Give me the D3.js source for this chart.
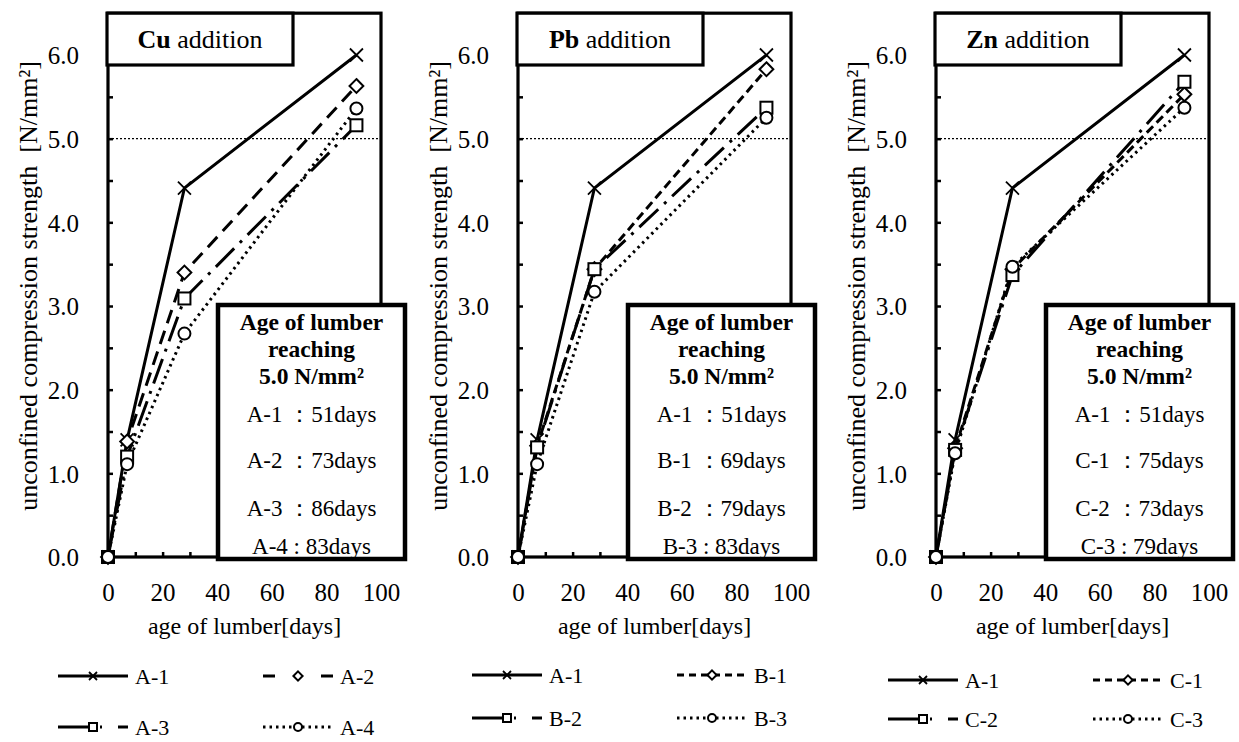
<!DOCTYPE html>
<html>
<head>
<meta charset="utf-8">
<script src="https://cdn.jsdelivr.net/npm/d3@7"></script>
<style>
  body { margin: 0; background: #fff; }
  svg { display: block; }
</style>
</head>
<body>
<svg id="chart" width="1239" height="742"></svg>
<script>
// Curing ages (days) at which specimens were tested
const days = [0, 7, 28, 91];

// Cu addition
const cuSeries = ["A-1", "A-2", "A-3", "A-4"];
const cuValues = [
  [0, 1.40, 4.41, 6.00],
  [0, 1.38, 3.40, 5.63],
  [0, 1.20, 3.09, 5.16],
  [0, 1.11, 2.67, 5.36]
];
const cuReachDays = [51, 73, 86, 83];

// Pb addition
const pbSeries = ["A-1", "B-1", "B-2", "B-3"];
const pbValues = [
  [0, 1.40, 4.41, 6.00],
  [0, 1.33, 3.44, 5.83],
  [0, 1.31, 3.44, 5.37],
  [0, 1.11, 3.17, 5.25]
];
const pbReachDays = [51, 69, 79, 83];

// Zn addition
const znSeries = ["A-1", "C-1", "C-2", "C-3"];
const znValues = [
  [0, 1.40, 4.41, 6.00],
  [0, 1.30, 3.44, 5.53],
  [0, 1.28, 3.37, 5.68],
  [0, 1.24, 3.47, 5.37]
];
const znReachDays = [51, 75, 73, 79];

const metals = ["Cu", "Pb", "Zn"];
const xTickLabels = [0, 20, 40, 60, 80, 100];
const yTickLabels = [0, 1, 2, 3, 4, 5, 6];
const targetStrength = 5.0;

const panels = [
  { metal: metals[0], names: cuSeries, values: cuValues, reach: cuReachDays },
  { metal: metals[1], names: pbSeries, values: pbValues, reach: pbReachDays },
  { metal: metals[2], names: znSeries, values: znValues, reach: znReachDays }
];

// ---- layout & styling ----
const FONT = "'Liberation Serif','Times New Roman',Times,serif";
const plotLeft = [108, 518, 936];
const plotWidth = 273;
const legendX = [0, 414, 830];
const legendRows = [[676, 727], [675, 718], [680, 719]];
const markerTypes = ["cross", "diamond", "square", "circle"];
const plotDash = [
  ["none", "14,8", "26,8,3,8", "2.5,4"],
  ["none", "9,5", "26,8,3,8", "2.5,4"],
  ["none", "9,5", "26,8,3,8", "2.5,4"]
];
const legendDash = [
  ["none", "12,46,12", "30,12,2,16,10", "2.5,4"],
  ["none", "7,5", "30,12,2,16,10", "2.5,4"],
  ["none", "7,5", "30,12,2,16,10", "2.5,4"]
];

const svg = d3.select("#chart");

function addText(parent, x, y, anchor, size, rotate) {
  const tf = rotate ? `translate(${x},${y}) rotate(-90)` : `translate(${x},${y})`;
  return parent.append("text")
    .attr("transform", tf)
    .attr("text-anchor", anchor)
    .attr("dy", "0.35em")
    .attr("font-family", FONT)
    .attr("font-size", size)
    .attr("fill", "#000")
    .style("white-space", "pre");
}

function drawMarker(parent, type, x, y, s) {
  const h = s / 2;
  if (type === "cross") {
    parent.append("path")
      .attr("d", `M${x - h},${y - h}L${x + h},${y + h}M${x - h},${y + h}L${x + h},${y - h}`)
      .attr("stroke", "#000").attr("stroke-width", 1.8).attr("fill", "none");
  } else if (type === "diamond") {
    const d = h * 1.15;
    parent.append("path")
      .attr("d", `M${x},${y - d}L${x + d},${y}L${x},${y + d}L${x - d},${y}Z`)
      .attr("stroke", "#000").attr("stroke-width", 2).attr("fill", "#fff");
  } else if (type === "square") {
    parent.append("rect")
      .attr("x", x - h).attr("y", y - h).attr("width", s).attr("height", s)
      .attr("stroke", "#000").attr("stroke-width", 2).attr("fill", "#fff");
  } else {
    parent.append("circle")
      .attr("cx", x).attr("cy", y).attr("r", h)
      .attr("stroke", "#000").attr("stroke-width", 2).attr("fill", "#fff");
  }
}

panels.forEach((p, pi) => {
  const g = svg.append("g");
  const x0 = plotLeft[pi];
  const x = d3.scaleLinear().domain([0, 100]).range([x0, x0 + plotWidth]);
  const y = d3.scaleLinear().domain([0, 6]).range([557, 55]);
  const yTop = y(6.5);

  // target strength reference
  g.append("line")
    .attr("x1", x(0)).attr("x2", x(100))
    .attr("y1", y(targetStrength)).attr("y2", y(targetStrength))
    .attr("stroke", "#000").attr("stroke-width", 1.2).attr("stroke-dasharray", "2,2");

  // axes: inward ticks, labels restyled afterwards
  const xAxis = d3.axisBottom(x)
    .tickValues(d3.range(0, 101, 10))
    .tickSizeInner(-5).tickSizeOuter(0)
    .tickFormat(d => xTickLabels.includes(d) ? String(d) : "");
  const gx = g.append("g").attr("transform", `translate(0,${y(0)})`).call(xAxis);
  gx.select(".domain").remove();
  gx.selectAll(".tick line").attr("stroke", "#000").attr("stroke-width", 2.5);
  gx.selectAll(".tick text")
    .attr("y", 35).attr("dy", "0.35em")
    .attr("font-family", FONT).attr("font-size", 25).attr("fill", "#000");

  const yAxis = d3.axisLeft(y)
    .tickValues(d3.range(0, 6.01, 0.5))
    .tickSizeInner(-5).tickSizeOuter(0)
    .tickFormat(d => yTickLabels.includes(d) ? d.toFixed(1) : "");
  const gy = g.append("g").attr("transform", `translate(${x(0)},0)`).call(yAxis);
  gy.select(".domain").remove();
  gy.selectAll(".tick line").attr("stroke", "#000").attr("stroke-width", 2.5);
  gy.selectAll(".tick text")
    .attr("x", -29).attr("dy", "0.35em")
    .attr("text-anchor", "end")
    .attr("font-family", FONT).attr("font-size", 25).attr("fill", "#000");

  // plot frame
  g.append("rect")
    .attr("x", x(0)).attr("y", yTop)
    .attr("width", x(100) - x(0)).attr("height", y(0) - yTop)
    .attr("fill", "none").attr("stroke", "#000").attr("stroke-width", 3.2);

  // series lines
  const line = d3.line().x((d, i) => x(days[i])).y(d => y(d));
  p.values.forEach((vals, si) => {
    g.append("path")
      .attr("d", line(vals))
      .attr("fill", "none").attr("stroke", "#000").attr("stroke-width", 3)
      .attr("stroke-dasharray", plotDash[pi][si]);
  });
  p.values.forEach((vals, si) => {
    vals.forEach((v, i) => drawMarker(g, markerTypes[si], x(days[i]), y(v), si === 0 ? 13 : 12));
  });

  // heading box
  const tb = { l: x0 - 1, r: x0 + 185, t: yTop, b: 65 };
  g.append("rect")
    .attr("x", tb.l).attr("y", tb.t).attr("width", tb.r - tb.l).attr("height", tb.b - tb.t)
    .attr("fill", "#fff").attr("stroke", "#000").attr("stroke-width", 3.2);
  const title = addText(g, (tb.l + tb.r) / 2, 39, "middle", 26);
  title.append("tspan").attr("font-weight", "bold").text(p.metal);
  title.append("tspan").text(" addition");

  // box: age at which 5.0 N/mm² is reached
  const ib = { l: x0 + 110, r: x0 + 297, t: 305, b: 559 };
  g.append("rect")
    .attr("x", ib.l).attr("y", ib.t).attr("width", ib.r - ib.l).attr("height", ib.b - ib.t)
    .attr("fill", "#fff").attr("stroke", "#000").attr("stroke-width", 4.5);
  const cx = (ib.l + ib.r) / 2;
  const headLines = ["Age of lumber", "reaching", `${targetStrength.toFixed(1)} N/mm²`];
  const headY = [322, 349, 376];
  headLines.forEach((s, i) => addText(g, cx, headY[i], "middle", 23.5).attr("font-weight", "bold").text(s));
  const rowY = [414, 460, 508, 546];
  p.names.forEach((n, i) => {
    const sep = i === p.names.length - 1 ? " : " : " ：";
    addText(g, cx, rowY[i], "middle", 23).text(`${n}${sep}${p.reach[i]}days`);
  });

  // axis titles
  addText(g, (x(0) + x(100)) / 2, 626, "middle", 24).text("age of lumber[days]");
  addText(g, x0 - 80, 286, "middle", 26, true).text("unconfined compression strength\u00a0 [N/mm²]");

  // legend
  const lg = svg.append("g");
  p.names.forEach((n, si) => {
    const col = si % 2, row = Math.floor(si / 2);
    const lx = legendX[pi] + (col === 0 ? 58 : 263);
    const ly = legendRows[pi][row];
    lg.append("line")
      .attr("x1", lx).attr("x2", lx + 70).attr("y1", ly).attr("y2", ly)
      .attr("stroke", "#000").attr("stroke-width", 3)
      .attr("stroke-dasharray", legendDash[pi][si]);
    drawMarker(lg, markerTypes[si], lx + 35, ly, 8);
    addText(lg, lx + 77, ly, "start", 22).text(n);
  });
});
</script>
</body>
</html>
